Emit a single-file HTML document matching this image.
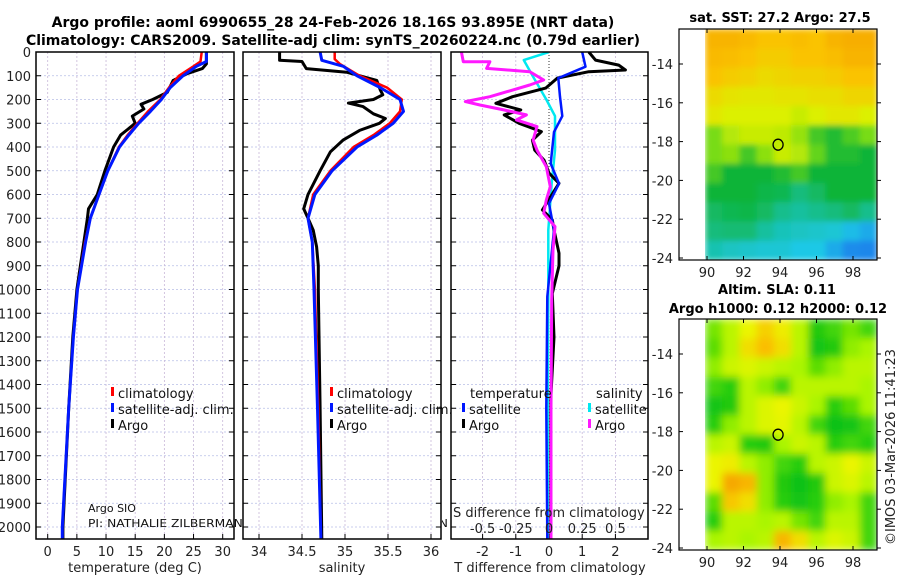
<!DOCTYPE html>
<html><head><meta charset="utf-8">
<style>
html,body{margin:0;padding:0;background:#fff;}
svg{display:block;font-family:"DejaVu Sans","Liberation Sans",sans-serif;}
</style></head>
<body>
<svg id="fig" width="900" height="580" viewBox="0 0 900 580" xmlns="http://www.w3.org/2000/svg">
<text x="333" y="27" font-size="14" font-weight="bold" text-anchor="middle">Argo profile: aoml 6990655_28 24-Feb-2026 18.16S 93.895E (NRT data)</text>
<text x="333" y="45" font-size="14" font-weight="bold" text-anchor="middle">Climatology: CARS2009. Satellite-adj clim: synTS_20260224.nc (0.79d earlier)</text>
<text x="780" y="22" font-size="13" font-weight="bold" text-anchor="middle">sat. SST: 27.2 Argo: 27.5</text>
<text x="777" y="294" font-size="13" font-weight="bold" text-anchor="middle">Altim. SLA: 0.11</text>
<text x="778" y="313" font-size="13" font-weight="bold" text-anchor="middle">Argo h1000: 0.12 h2000: 0.12</text>
<text transform="translate(895,545) rotate(-90)" font-size="13" fill="#222">©IMOS 03-Mar-2026 11:41:23</text>
<g id="root"></g>
</svg>
<script>
// ---------- profile data ----------
const tArgoDepth=[0,50,70,90,120,170,200,220,240,270,300,350,400,500,600,660,700,800,1000,1200,1500,2000,2050];
const tArgo=[27.2,27.2,26.5,24.0,21.5,20.5,18.0,16.0,16.5,14.5,15.0,12.5,11.3,9.8,8.5,7.0,6.8,6.2,5.0,4.3,3.6,2.6,2.6];
const tClimDepth=[0,40,60,100,150,200,250,300,350,400,500,600,700,800,1000,1200,1500,2000,2050];
const tClim=[26.4,26.2,25.0,22.5,20.8,19.3,17.2,15.4,13.7,12.2,10.3,8.8,7.3,6.4,5.1,4.4,3.6,2.5,2.5];
const tSat=[27.2,27.2,25.5,23.2,21.0,19.5,17.6,15.6,13.9,12.3,10.3,8.8,7.3,6.5,5.1,4.4,3.6,2.5,2.5];
const sArgoDepth=[0,35,40,70,85,120,160,180,200,215,230,260,280,300,330,370,420,500,600,660,700,750,820,900,1000,1500,2050];
const sArgo=[34.24,34.24,34.50,34.55,35.02,35.37,35.41,35.44,35.33,35.04,35.21,35.33,35.47,35.40,35.17,34.98,34.83,34.71,34.57,34.52,34.57,34.63,34.67,34.69,34.69,34.71,34.73];
const sClimDepth=[0,30,50,100,150,200,250,300,350,400,500,600,700,800,1000,1500,2050];
const sClim=[34.88,34.88,34.94,35.17,35.49,35.66,35.64,35.52,35.33,35.10,34.83,34.63,34.57,34.62,34.65,34.69,34.72];
const sSatDepth=[0,35,60,100,150,200,250,300,350,400,500,600,700,800,1000,1500,2050];
const sSat=[34.71,34.73,34.98,35.14,35.41,35.64,35.68,35.56,35.37,35.14,34.85,34.65,34.57,34.62,34.64,34.68,34.72];
// differences
const dTArgoDepth=[0,34,55,76,83,110,152,188,216,244,265,300,335,371,413,455,510,553,609,665,707,750,847,900,1017,1200,1465,1800,2050];
const dTArgo=[1.2,1.4,2.1,2.3,1.2,0.25,-0.1,-1.1,-1.6,-0.85,-1.35,-0.9,-0.23,-0.5,-0.43,-0.15,0,0.3,0.05,-0.2,0.1,0.15,0.3,0.3,0.1,0.15,0.05,0.05,0.05];
const dTSatDepth=[0,62,110,188,270,337,470,554,638,750,1030,1500,2050];
const dTSat=[1.0,1.1,0.28,0.33,0.4,0.15,0.05,0.3,0,0.15,-0.05,-0.08,-0.05];
const dSSatDepth=[0,34,104,200,270,413,553,750,1030,1500,2050];
const dSSat=[0,-0.19,-0.12,-0.02,0.045,0.045,0.02,-0.005,-0.005,-0.01,-0.01];
const dSArgoDepth=[0,41,41,69,83,118,139,188,209,223,244,265,286,314,371,413,483,567,623,679,735,834,1045,1500,2050];
const dSArgo=[-0.66,-0.645,-0.445,-0.47,-0.145,-0.04,-0.145,-0.445,-0.63,-0.52,-0.34,-0.17,-0.245,-0.09,-0.12,-0.09,-0.02,0.01,-0.02,-0.04,0.045,0.03,0.02,0.015,0.015];
const depthTicks=[0,100,200,300,400,500,600,700,800,900,1000,1100,1200,1300,1400,1500,1600,1700,1800,1900,2000];
const tempTicks=[0,5,10,15,20,25,30];
const salTicks=[34,34.5,35,35.5,36];
const dTTicks=[-2,-1,0,1,2];
const dSTicks=[-0.5,-0.25,0,0.25,0.5];
const dSTickLabels=["-0.5","-0.25","0","0.25","0.5"];
// ---------- map data (rows top->bottom, cols west->east) ----------
const sstGrid=[
[0.85,0.85,0.83,0.80,0.80,0.82,0.80,0.85,0.87,0.87],
[0.83,0.82,0.80,0.78,0.78,0.80,0.80,0.82,0.85,0.85],
[0.80,0.78,0.77,0.75,0.76,0.77,0.77,0.78,0.80,0.80],
[0.75,0.73,0.72,0.72,0.73,0.73,0.74,0.74,0.76,0.76],
[0.72,0.70,0.70,0.70,0.70,0.68,0.70,0.72,0.72,0.70],
[0.60,0.66,0.68,0.68,0.67,0.63,0.55,0.52,0.56,0.60],
[0.60,0.62,0.55,0.62,0.68,0.66,0.58,0.52,0.52,0.50],
[0.55,0.50,0.50,0.50,0.52,0.55,0.50,0.50,0.50,0.50],
[0.50,0.50,0.50,0.48,0.47,0.42,0.45,0.50,0.50,0.50],
[0.45,0.47,0.48,0.45,0.40,0.38,0.40,0.42,0.45,0.40],
[0.42,0.43,0.43,0.38,0.35,0.34,0.33,0.32,0.28,0.25],
[0.36,0.34,0.33,0.32,0.32,0.30,0.30,0.25,0.20,0.18]];
const slaGrid=[
[0.40,0.55,0.70,0.78,0.72,0.55,0.20,0.30,0.40,0.30],
[0.35,0.55,0.75,0.82,0.75,0.55,0.15,0.20,0.45,0.50],
[0.45,0.60,0.65,0.60,0.55,0.50,0.35,0.45,0.55,0.55],
[0.30,0.25,0.55,0.45,0.30,0.55,0.55,0.55,0.55,0.50],
[0.15,0.20,0.55,0.65,0.70,0.60,0.50,0.25,0.35,0.50],
[0.25,0.45,0.55,0.65,0.68,0.55,0.30,0.10,0.15,0.30],
[0.55,0.60,0.25,0.20,0.50,0.60,0.55,0.25,0.30,0.25],
[0.70,0.72,0.55,0.45,0.30,0.25,0.55,0.60,0.70,0.60],
[0.70,0.90,0.85,0.45,0.20,0.10,0.20,0.60,0.65,0.55],
[0.35,0.80,0.75,0.45,0.25,0.15,0.25,0.45,0.50,0.30],
[0.25,0.55,0.55,0.50,0.55,0.40,0.30,0.55,0.55,0.30],
[0.50,0.55,0.50,0.55,0.85,0.75,0.55,0.65,0.60,0.30]];
const lonTicks=[90,92,94,96,98];
const latTicks=[-14,-16,-18,-20,-22,-24];
const floatLon=93.895, floatLat=-18.16;

// ---------- helpers ----------
const NS="http://www.w3.org/2000/svg";
const root=document.getElementById('root');
function mk(tag,attrs,parent){const e=document.createElementNS(NS,tag);for(const k in attrs)e.setAttribute(k,attrs[k]);(parent||root).appendChild(e);return e;}
const yTop=52, yBot=539;
function yD(d){return yTop+d*0.2375;}
function lin(d0,d1,p0,p1){return v=>p0+(v-d0)*(p1-p0)/(d1-d0);}

const defs=mk('defs',{});
const panels=[
 {name:'temperature-panel',x0:36,x1:234,xs:lin(0,30,47.7,222.7),ticks:tempTicks,labels:tempTicks.map(String),title:'temperature (deg C)',tx:135},
 {name:'salinity-panel',x0:243,x1:441,xs:lin(34,36,259,431),ticks:salTicks,labels:salTicks.map(String),title:'salinity',tx:342},
 {name:'difference-panel',x0:451,x1:648,xs:lin(0,1,549,582.2),ticks:dTTicks,labels:dTTicks.map(String),title:'T difference from climatology',tx:550}
];
panels.forEach((p,i)=>{
  const c=mk('clipPath',{id:'cp'+i},defs);mk('rect',{x:p.x0,y:yTop,width:p.x1-p.x0,height:yBot-yTop},c);
  const g=mk('g',{});
  
  
  mk('rect',{x:p.x0,y:yTop,width:p.x1-p.x0,height:yBot-yTop,fill:'#fff'},g);
  depthTicks.forEach(d=>{
    const l=mk('line',{x1:p.x0,x2:p.x1,y1:yD(d),y2:yD(d),stroke:'#b8bfe6','stroke-width':0.8,'stroke-dasharray':'2,2'},g);
    
    mk('line',{x1:p.x0,x2:p.x0+5,y1:yD(d),y2:yD(d),stroke:'#000'},g);
    mk('line',{x1:p.x1-5,x2:p.x1,y1:yD(d),y2:yD(d),stroke:'#000'},g);
  });
  p.ticks.forEach((t,k)=>{
    const x=p.xs(t);
    if(!(i==2&&t==0)){
      const l=mk('line',{x1:x,x2:x,y1:yTop,y2:yBot,stroke:'#c8b8d8','stroke-width':0.8,'stroke-dasharray':'2,2'},g);
      
    }
    mk('line',{x1:x,x2:x,y1:yBot-5,y2:yBot,stroke:'#000'},g);
    const tl=mk('text',{x:x,y:556,'font-size':13,'text-anchor':'middle',fill:'#222'},g);
    tl.textContent=p.labels[k];
    
    
  });
  const at=mk('text',{x:p.tx,y:572,'font-size':13,'text-anchor':'middle',fill:'#222'},g);
  at.textContent=p.title;
  
  
  p.g=g;
});
depthTicks.forEach(d=>{
  const t=mk('text',{x:31,y:yD(d)+5,'font-size':13,'text-anchor':'end',fill:'#222'});
  t.textContent=String(d);
  
  
});
function line(g,xs,vals,depths,color,w,name,clip){
  const pts=vals.map((v,k)=>xs(v).toFixed(1)+','+yD(depths[k]).toFixed(1)).join(' ');
  const pl=mk('polyline',{points:pts,fill:'none',stroke:color,'stroke-width':w,'stroke-linejoin':'round'},g);
  
  
  if(clip)pl.setAttribute('clip-path','url(#'+clip+')');
}
const P1=panels[0],P2=panels[1],P3=panels[2];
line(P1.g,P1.xs,tArgo,tArgoDepth,'#000',3,'temp-argo-line','cp0');
line(P1.g,P1.xs,tClim,tClimDepth,'#f00',2.5,'temp-climatology-line','cp0');
line(P1.g,P1.xs,tSat,tClimDepth,'#0018ff',3,'temp-satellite-line','cp0');
line(P2.g,P2.xs,sArgo,sArgoDepth,'#000',3,'sal-argo-line','cp1');
line(P2.g,P2.xs,sClim,sClimDepth,'#f00',2.5,'sal-climatology-line','cp1');
line(P2.g,P2.xs,sSat,sSatDepth,'#0018ff',3,'sal-satellite-line','cp1');
const zl=mk('line',{x1:P3.xs(0),x2:P3.xs(0),y1:yTop,y2:yBot,stroke:'#333','stroke-width':1,'stroke-dasharray':'1,2'},P3.g);

const sToX=v=>P3.xs(v*4);
line(P3.g,sToX,dSSat,dSSatDepth,'#00e8f0',2.5,'sdiff-satellite-line','cp2');
line(P3.g,P3.xs,dTArgo,dTArgoDepth,'#000',3,'tdiff-argo-line','cp2');
line(P3.g,P3.xs,dTSat,dTSatDepth,'#0018ff',2.5,'tdiff-satellite-line','cp2');
line(P3.g,sToX,dSArgo,dSArgoDepth,'#ff18ff',3,'sdiff-argo-line','cp2');
panels.forEach(p=>{mk('rect',{x:p.x0,y:yTop,width:p.x1-p.x0,height:yBot-yTop,fill:'none',stroke:'#000','stroke-width':1.5},p.g);});
const srcClip=mk('clipPath',{id:'srcclip'},defs);
mk('rect',{x:0,y:0,width:242,height:580},srcClip);
mk('rect',{x:442,y:0,width:8,height:580},srcClip);
const sg=mk('g',{'clip-path':'url(#srcclip)'});
const a1=mk('text',{x:88,y:512,'font-size':11,fill:'#111'},sg);a1.textContent='Argo SIO';

const a2=mk('text',{x:88,y:527,'font-size':11,fill:'#111',textLength:360,lengthAdjust:'spacingAndGlyphs'},sg);a2.textContent='PI: NATHALIE ZILBERMAN, DEAN ROEMMICH, JOHN GILSON';

const sdt=mk('text',{x:453,y:517,'font-size':13,fill:'#222'});sdt.textContent='S difference from climatology';

dSTicks.forEach((t,k)=>{
  const tl=mk('text',{x:sToX(t),y:533,'font-size':13,'text-anchor':'middle',fill:'#222'});
  tl.textContent=dSTickLabels[k];
  
  
});
function legend(x,y,color,label,name){
  const g=mk('g',{});
  
  
  mk('rect',{x:x,y:y-11,width:3,height:9,fill:color},g);
  const t=mk('text',{x:x+7,y:y,'font-size':13,fill:'#111'},g);t.textContent=label;
}
[[P1,111],[P2,330]].forEach(([p,x])=>{
  legend(x,398,'#f00','climatology','legend-climatology');
  legend(x,414,'#0018ff','satellite-adj. clim.','legend-satellite');
  legend(x,430,'#000','Argo','legend-argo');
});
const lt=mk('text',{x:470,y:398,'font-size':13,fill:'#111'});lt.textContent='temperature';

const ls=mk('text',{x:596,y:398,'font-size':13,fill:'#111'});ls.textContent='salinity';

legend(462,414,'#0018ff','satellite','legend-tdiff-satellite');
legend(462,430,'#000','Argo','legend-tdiff-argo');
legend(588,414,'#00e8f0','satellite','legend-sdiff-satellite');
legend(588,430,'#ff18ff','Argo','legend-sdiff-argo');

// ---------- maps ----------
function interp(stops,v){
  for(let i=1;i<stops.length;i++){if(v<=stops[i][0]){const a=stops[i-1],b=stops[i];const f=(v-a[0])/(b[0]-a[0]);
    return 'rgb('+[0,1,2].map(j=>Math.round(a[1][j]+(b[1][j]-a[1][j])*f)).join(',')+')';}}
  const s=stops[stops.length-1][1];return 'rgb('+s.join(',')+')';
}
const sstStops=[[0,[20,90,230]],[0.2,[30,140,235]],[0.3,[30,200,230]],[0.4,[20,190,140]],[0.5,[15,180,55]],[0.6,[120,220,20]],[0.7,[220,240,0]],[0.8,[250,195,0]],[0.9,[245,165,0]]];
const slaStops=[[0,[0,185,30]],[0.25,[40,205,10]],[0.5,[170,245,0]],[0.7,[235,245,0]],[0.82,[250,190,0]],[1,[240,140,0]]];
function map(top,grid,stops,name,blur){
  const box={x0:679,x1:877,y0:top,y1:top+231};
  const lonX=lin(90,98,707,853), latY=lin(-14,-24,top+35,top+229);
  const g=mk('g',{});
  
  
  const dx0=705, dx1=877, rows=grid.length, cols=grid[0].length;
  const cw=(dx1-dx0)/cols, ch=(box.y1-box.y0)/rows;
  const fid='blur-'+name;
  const f=mk('filter',{id:fid,x:dx0,y:box.y0,width:dx1-dx0,height:box.y1-box.y0,filterUnits:'userSpaceOnUse'},defs);
  mk('feGaussianBlur',{stdDeviation:blur,edgeMode:'duplicate'},f);
  const cg=mk('g',{filter:'url(#'+fid+')'},g);
  grid.forEach((row,r)=>row.forEach((v,c)=>{
    const cell=mk('rect',{x:(dx0+c*cw).toFixed(2),y:(box.y0+r*ch).toFixed(2),width:(cw+0.6).toFixed(2),height:(ch+0.6).toFixed(2),fill:interp(stops,v)},cg);
    
  }));
  mk('rect',{x:box.x0,y:box.y0,width:box.x1-box.x0,height:box.y1-box.y0,fill:'none',stroke:'#000','stroke-width':1.2},g);
  lonTicks.forEach(l=>{
    const x=lonX(l);
    mk('line',{x1:x,x2:x,y1:box.y1,y2:box.y1-4,stroke:'#000'},g);
    mk('line',{x1:x,x2:x,y1:box.y0,y2:box.y0+4,stroke:'#000'},g);
    const t=mk('text',{x:x,y:box.y1+17,'font-size':13,'text-anchor':'middle',fill:'#222'},g);t.textContent=String(l);
    
  });
  latTicks.forEach(l=>{
    const y=latY(l);
    mk('line',{x1:box.x0,x2:box.x0+4,y1:y,y2:y,stroke:'#000'},g);
    mk('line',{x1:box.x1,x2:box.x1+4,y1:y,y2:y,stroke:'#000'},g);
    const t=mk('text',{x:673,y:y+5,'font-size':13,'text-anchor':'end',fill:'#222'},g);t.textContent=String(l);
    
  });
  const m=mk('ellipse',{cx:lonX(floatLon),cy:latY(floatLat),rx:5,ry:5.5,fill:'none',stroke:'#000','stroke-width':1.3},g);
  
}
map(29,sstGrid,sstStops,'sst-map',3);
map(319,slaGrid,slaStops,'sla-map',4);
</script>
</body></html>
